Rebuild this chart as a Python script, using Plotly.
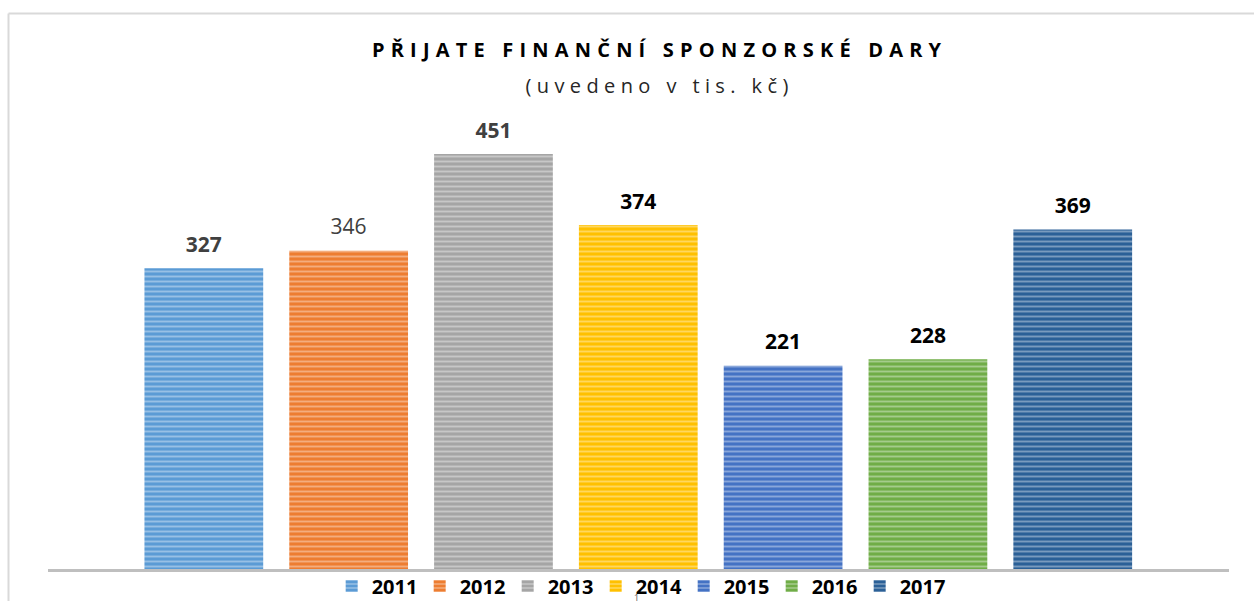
import plotly.graph_objects as go

# ---- data ----
years = ["2011", "2012", "2013", "2014", "2015", "2016", "2017"]
values = [327, 346, 451, 374, 221, 228, 369]

# ---- styles ----
colors = ["#5B9BD5", "#ED7D31", "#A5A5A5", "#FFC000", "#4472C4", "#70AD47", "#2B6097"]
label_colors = ["#404040", "#404040", "#404040", "#000000", "#000000", "#000000", "#000000"]
label_bold = [True, False, True, True, True, True, True]

title_text = "PŘIJATE FINANČNÍ SPONZORSKÉ DARY"
subtitle_text = "(uvedeno v tis. kč)"
page_number = "1"

FONT = "Open Sans"

fig = go.Figure()
for yr, v, c in zip(years, values, colors):
    fig.add_trace(go.Bar(
        x=[yr], y=[v], name=yr, width=0.82,
        marker=dict(
            color=c,
            line=dict(width=0),
            pattern=dict(shape="-", size=5, solidity=0.38,
                         fgcolor="rgba(255,255,255,0.6)", fgopacity=0.62,
                         fillmode="overlay"),
        ),
        hoverinfo="x+y",
    ))

# data labels (invisible markers used only to offset the text above the bars)
label_texts = [(f"<b>{v}</b>" if b else str(v)) for v, b in zip(values, label_bold)]
fig.add_trace(go.Scatter(
    x=years, y=values, mode="markers+text", text=label_texts,
    textposition="top center",
    textfont=dict(family=FONT, size=21, color=label_colors),
    marker=dict(size=16, color="rgba(0,0,0,0)", line=dict(width=0)),
    showlegend=False, hoverinfo="skip", cliponaxis=False,
))

annotations = [dict(x=(636 - 48) / 1181, y=(569 - 597) / 460, xref="paper", yref="paper",
                    text=page_number, showarrow=False,
                    font=dict(family=FONT, size=9, color="#595959"),
                    yanchor="middle", xanchor="center")]

shapes = [
    dict(type="line", xref="paper", yref="paper",
         x0=(8.5 - 48) / 1181, x1=(1254 - 48) / 1181,
         y0=(569 - 13.5) / 460, y1=(569 - 13.5) / 460,
         line=dict(color="#D9D9D9", width=2)),
    dict(type="line", xref="paper", yref="paper",
         x0=(8.5 - 48) / 1181, x1=(8.5 - 48) / 1181,
         y0=(569 - 13.5) / 460, y1=(569 - 602) / 460,
         line=dict(color="#D9D9D9", width=2)),
]

title_html = (f"<span style='font-size:20px;letter-spacing:6.2px'><b>{title_text}</b></span><br>"
              f"<span style='font-size:20px;letter-spacing:5.4px;color:#262626'>{subtitle_text}</span>")

fig.update_layout(
    width=1254, height=601,
    margin=dict(l=48, r=25, t=109, b=32, autoexpand=False),
    paper_bgcolor="white", plot_bgcolor="white",
    barmode="overlay",
    title=dict(
        text=title_html,
        x=0.526, xanchor="center", xref="container",
        y=1 - 56.5 / 601, yanchor="middle", yref="container",
        font=dict(family=FONT, size=28, color="#000000"),
    ),
    xaxis=dict(type="category", range=[-1.076, 7.079], showticklabels=False, ticks="",
               showgrid=False, zeroline=False, showline=True, linecolor="#BFBFBF", linewidth=3,
               fixedrange=True),
    yaxis=dict(range=[0, 500], showticklabels=False, ticks="", showgrid=False,
               zeroline=False, showline=False, fixedrange=True),
    showlegend=True,
    legend=dict(orientation="h", x=0.501, xanchor="center", y=(569 - 586) / 460, yanchor="middle",
                font=dict(family=FONT, size=20, color="#000000", weight="bold"),
                itemwidth=30, entrywidth=43, entrywidthmode="pixels",
                tracegroupgap=0, bgcolor="rgba(0,0,0,0)"),
    annotations=annotations,
    shapes=shapes,
)

post = """
var s=document.createElement('style');
s.textContent='html,body{margin:0;padding:0;overflow:hidden;}';
document.head.appendChild(s);
"""
fig.write_html("out.html", post_script=post, config={"displayModeBar": False})
